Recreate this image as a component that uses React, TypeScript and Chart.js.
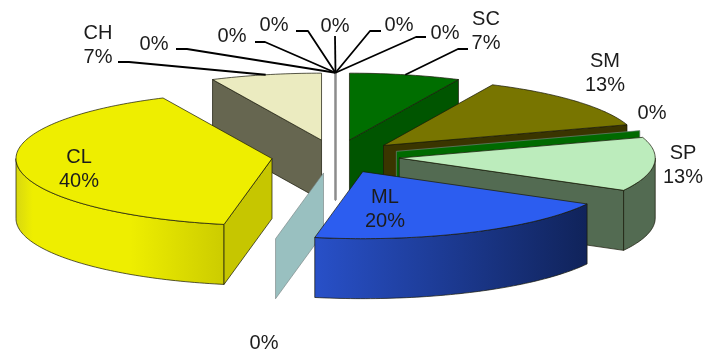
import React, { useEffect, useRef } from "react";
import { Chart, registerables } from "chart.js";

Chart.register(...registerables);

// Soil classes and their share of the samples, clockwise from twelve o'clock.
const categories = ["SC", "SM", "", "SP", "ML", "", "CL", "CH", "", "", "", "", "", ""];
const percentages = [7, 13, 0, 13, 20, 0, 40, 7, 0, 0, 0, 0, 0, 0];

const topColors = ["#006e00", "#787500", "#006a00", "#bcecbc", "#2c5df0", "#99c0c0", "#eeee00", "#ebebc0", "#8c8c8c", "#8c8c8c", "#8c8c8c", "#8c8c8c", "#8c8c8c", "#8c8c8c"];
const wallColors = ["#005500", "#3a3500", "#006a00", "#536b52", "#1f3f9c", "#99c0c0", "#c6c600", "#666650", "#8c8c8c", "#8c8c8c", "#8c8c8c", "#8c8c8c", "#8c8c8c", "#8c8c8c"];

// Back-to-front painting order of the slices.
const paintOrder = [8, 9, 10, 11, 12, 13, 0, 7, 1, 2, 3, 6, 5, 4];

// Projection of the tilted pie onto the canvas.
const view = { cx: 335.5, cy: 156.5, rx: 256, ry: 67, depth: 60, explode: 0.25 };

// Text placement: centre of each label and the elbow of its leader line.
const labelSpots: [number, number][] = [
  [486, 19], [605, 61], [652, 113], [683, 153], [385, 197], [264, 343], [79, 157], [98, 33],
  [154, 44], [232, 36], [274, 25], [335, 26], [399, 25], [445, 33],
];
const leaderPaths: ([number, number][] | null)[] = [
  [[458, 49], [468, 49]], null, null, null, null, null, null, [[129, 62], [118, 62]],
  [[187, 49], [176, 49]], [[265, 42], [255, 42]], [[308, 31], [296, 31]], [[335, 36]], [[370, 31], [381, 31]], [[416, 37], [426, 37]],
];

type Pt = [number, number];

const project = (X: number, Y: number, drop = 0): Pt => [
  view.cx + view.rx * X,
  view.cy + view.ry * Y + drop,
];

const apexOf = (mid: number): Pt => [view.explode * Math.sin(mid), -view.explode * Math.cos(mid)];

function rimPoints(a0: number, a1: number, mid: number, drop = 0): Pt[] {
  const [ax, ay] = apexOf(mid);
  const n = Math.max(1, Math.ceil((a1 - a0) / 0.02));
  const pts: Pt[] = [];
  for (let i = 0; i <= n; i++) {
    const t = a0 + ((a1 - a0) * i) / n;
    pts.push(project(ax + Math.sin(t), ay - Math.cos(t), drop));
  }
  return pts;
}

function fillPath(ctx: CanvasRenderingContext2D, pts: Pt[], fill: string | CanvasGradient, stroke = "rgba(25,25,10,0.9)", width = 0.8) {
  ctx.beginPath();
  pts.forEach(([x, y], i) => (i ? ctx.lineTo(x, y) : ctx.moveTo(x, y)));
  ctx.closePath();
  ctx.fillStyle = fill;
  ctx.fill();
  ctx.strokeStyle = stroke;
  ctx.lineWidth = width;
  ctx.lineJoin = "round";
  ctx.stroke();
}

function radialWall(ctx: CanvasRenderingContext2D, angle: number, mid: number, fill: string, stroke?: string, width?: number) {
  const [ax, ay] = apexOf(mid);
  const apex = project(ax, ay);
  const apexLow = project(ax, ay, view.depth);
  const [rim] = rimPoints(angle, angle, mid);
  const [rimLow] = rimPoints(angle, angle, mid, view.depth);
  fillPath(ctx, [apex, rim, rimLow, apexLow], fill, stroke, width);
}

function curvedWallFill(ctx: CanvasRenderingContext2D, index: number, x0: number, x1: number): string | CanvasGradient {
  const left = Math.min(x0, x1);
  const right = Math.max(x0, x1);
  const g = ctx.createLinearGradient(left, 0, right, 0);
  if (categories[index] === "CL") {
    g.addColorStop(0, "#d8d810");
    g.addColorStop(0.08, "#eeee00");
    g.addColorStop(0.55, "#eeee00");
    g.addColorStop(1, "#cccc00");
    return g;
  }
  if (categories[index] === "ML") {
    g.addColorStop(0, "#2850c8");
    g.addColorStop(1, "#10235a");
    return g;
  }
  return wallColors[index];
}

function drawSlice(ctx: CanvasRenderingContext2D, index: number, a0: number, a1: number) {
  const mid = (a0 + a1) / 2;
  const [ax, ay] = apexOf(mid);

  if (a1 - a0 < 1e-6) {
    // An empty class collapses to a flat sheet standing on its radius;
    // seen edge-on at twelve o'clock it still needs a visible line.
    const edgeOn = Math.abs(Math.sin(a0)) < 1e-6;
    radialWall(ctx, a0, mid, wallColors[index], edgeOn ? "#8c8c8c" : "rgba(120,130,130,0.8)", edgeOn ? 1.4 : 0.8);
    return;
  }

  const arcFrom = Math.max(a0, Math.PI / 2);
  const arcTo = Math.min(a1, (3 * Math.PI) / 2);
  if (arcTo > arcFrom) {
    const upper = rimPoints(arcFrom, arcTo, mid);
    const lower = rimPoints(arcFrom, arcTo, mid, view.depth).reverse();
    const xs = upper.map((p) => p[0]);
    fillPath(ctx, [...upper, ...lower], curvedWallFill(ctx, index, Math.min(...xs), Math.max(...xs)));
  }
  if (Math.sin(a0) < -1e-6) radialWall(ctx, a0, mid, wallColors[index]);
  if (Math.sin(a1) > 1e-6) radialWall(ctx, a1, mid, wallColors[index]);

  fillPath(ctx, [project(ax, ay), ...rimPoints(a0, a1, mid)], topColors[index]);
}

const piePlugin = {
  id: "tiltedPie",
  beforeDatasetsDraw(chart: Chart) {
    const ctx = chart.ctx;
    const arcs = chart.getDatasetMeta(0).data as any[];
    const angleOf = (a: number) => a + Math.PI / 2;

    ctx.save();
    for (const i of paintOrder) {
      drawSlice(ctx, i, angleOf(arcs[i].startAngle), angleOf(arcs[i].endAngle));
    }

    // Leader lines run from the rim of a slice out to its label.
    ctx.strokeStyle = "#000";
    ctx.lineWidth = 1.8;
    arcs.forEach((arc, i) => {
      const path = leaderPaths[i];
      if (!path) return;
      const a0 = angleOf(arc.startAngle);
      const a1 = angleOf(arc.endAngle);
      const mid = (a0 + a1) / 2;
      const [start] = rimPoints(mid, mid, mid);
      ctx.beginPath();
      ctx.moveTo(start[0], start[1]);
      path.forEach(([x, y]) => ctx.lineTo(x, y));
      ctx.stroke();
    });

    // Category name above its percentage; empty classes show the percentage only.
    ctx.fillStyle = "#1c1c1c";
    ctx.font = '20px "Liberation Sans", Arial, sans-serif';
    ctx.textAlign = "center";
    ctx.textBaseline = "middle";
    categories.forEach((name, i) => {
      const [x, y] = labelSpots[i];
      const pct = `${percentages[i]}%`;
      if (name) {
        ctx.fillText(name, x, y);
        ctx.fillText(pct, x, y + 24);
      } else {
        ctx.fillText(pct, x, y);
      }
    });
    ctx.restore();
    return false;
  },
};

export default function App() {
  const canvasRef = useRef<HTMLCanvasElement>(null);

  useEffect(() => {
    const chart = new Chart(canvasRef.current as HTMLCanvasElement, {
      type: "pie",
      data: {
        labels: categories,
        datasets: [{ data: percentages, backgroundColor: topColors, borderWidth: 0 }],
      },
      options: {
        animation: false,
        responsive: false,
        devicePixelRatio: 1,
        plugins: { legend: { display: false }, tooltip: { enabled: false } },
      },
      plugins: [piePlugin as any],
    });
    return () => chart.destroy();
  }, []);

  return (
    <div style={{ position: "absolute", left: 0, top: 0, width: 706, height: 353, background: "#fff" }}>
      <canvas ref={canvasRef} width={706} height={353} style={{ display: "block" }} />
    </div>
  );
}
